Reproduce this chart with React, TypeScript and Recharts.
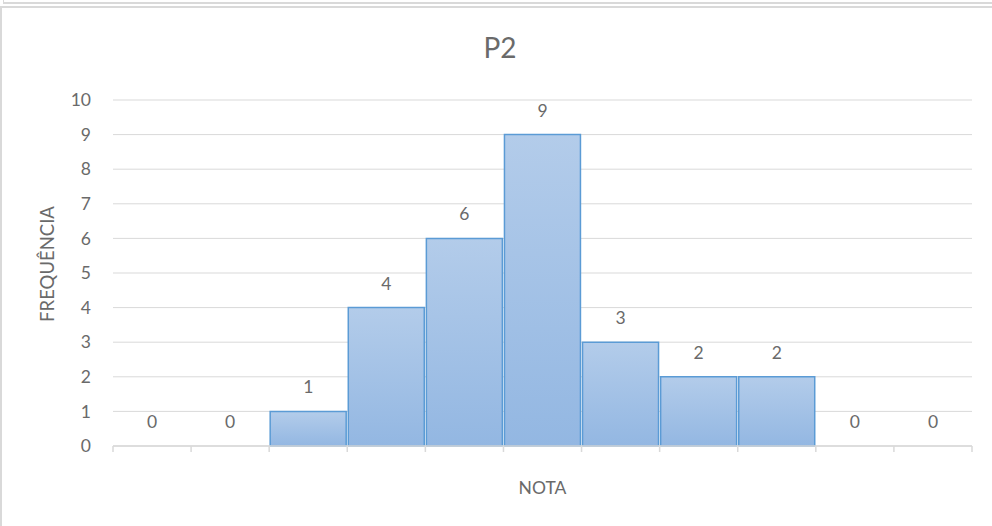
import React from "react";
import {
    ComposedChart,
    Bar,
    Line,
    XAxis,
    YAxis,
    CartesianGrid,
    LabelList,
} from "recharts";

// notas 0..10 e frequência de cada uma
const notas = ["0", "1", "2", "3", "4", "5", "6", "7", "8", "9", "10"];
const frequencias = [0, 0, 1, 4, 6, 9, 3, 2, 2, 0, 0];
const yTicks = [0, 1, 2, 3, 4, 5, 6, 7, 8, 9, 10];

const FONT = "Lato, 'Open Sans', sans-serif";
const GRAY = "#6A6A6A";
const LINE = "#D9D9D9";

const YLabel = (props: any) => {
    const vb = props.viewBox || {};
    const cx = vb.x + 14;
    const cy = vb.y + vb.height / 2 - 9;
    return (
        <text
            x={cx}
            y={cy}
            transform={`rotate(-90 ${cx} ${cy})`}
            textAnchor="middle"
            dominantBaseline="central"
            fill={GRAY}
            fontSize={18.5}
            fontFamily={FONT}
        >
            FREQUÊNCIA
        </text>
    );
};

// marcas do eixo X nos limites de cada classe (não no centro)
const BoundaryTick = (props: any) => {
    const { x, y, width, visibleTicksCount, index } = props;
    const band = width / visibleTicksCount;
    const left = x - band / 2;
    return (
        <g>
            <line x1={left} x2={left} y1={y} y2={y + 6} stroke={LINE} strokeWidth={1.5} />
            {index === visibleTicksCount - 1 && (
                <line
                    x1={left + band}
                    x2={left + band}
                    y1={y}
                    y2={y + 6}
                    stroke={LINE}
                    strokeWidth={1.5}
                />
            )}
        </g>
    );
};

const App: React.FC = () => {
    const data = notas.map((n, i) => ({ nota: n, freq: frequencias[i] }));

    return (
        <div
            style={{
                position: "fixed",
                top: 0,
                left: 0,
                width: 992,
                height: 526,
                overflow: "hidden",
                background: "#fff",
                fontFamily: FONT,
            }}
        >
            <div
                style={{
                    position: "absolute",
                    top: -10,
                    left: 3,
                    width: 1000,
                    height: 11,
                    border: `1px solid ${LINE}`,
                    borderBottomWidth: 2,
                }}
            />
            <div
                style={{
                    position: "absolute",
                    top: 6,
                    left: 0,
                    width: 1000,
                    height: 600,
                    border: `2px solid ${LINE}`,
                }}
            />
            <div
                style={{
                    position: "absolute",
                    top: 30,
                    left: 0,
                    width: 1000,
                    textAlign: "center",
                    fontSize: 28,
                    color: GRAY,
                }}
            >
                P2
            </div>
            <div style={{ position: "absolute", top: 0, left: 0 }}>
                <ComposedChart
                    width={992}
                    height={526}
                    data={data}
                    margin={{ top: 100, right: 20, bottom: 30, left: 33 }}
                    barCategoryGap={1}
                >
                    <defs>
                        <linearGradient id="barFill" x1="0" y1="0" x2="0" y2="1">
                            <stop offset="0%" stopColor="#B3CCEA" />
                            <stop offset="100%" stopColor="#93B7E2" />
                        </linearGradient>
                    </defs>
                    <CartesianGrid vertical={false} stroke={LINE} />
                    <XAxis
                        dataKey="nota"
                        interval={0}
                        tickSize={0}
                        tickMargin={0}
                        tickLine={false}
                        tick={<BoundaryTick />}
                        axisLine={{ stroke: LINE, strokeWidth: 1.5 }}
                        height={50}
                        label={{
                            value: "NOTA",
                            position: "insideBottom",
                            offset: 2,
                            fill: GRAY,
                            fontSize: 17.5,
                            fontFamily: FONT,
                        }}
                    />
                    <YAxis
                        domain={[0, 10]}
                        ticks={yTicks}
                        width={80}
                        axisLine={false}
                        tickLine={false}
                        tickMargin={16}
                        tick={{ fill: GRAY, fontSize: 17.5, fontFamily: FONT }}
                        label={<YLabel />}
                    />
                    <Bar
                        dataKey="freq"
                        fill="url(#barFill)"
                        stroke="#5B9BD5"
                        strokeWidth={1.5}
                        isAnimationActive={false}
                    />
                    {/* série invisível só para os rótulos (inclui os zeros) */}
                    <Line
                        dataKey="freq"
                        stroke="none"
                        dot={false}
                        activeDot={false}
                        isAnimationActive={false}
                    >
                        <LabelList
                            dataKey="freq"
                            position="top"
                            offset={18}
                            fill={GRAY}
                            fontSize={17.5}
                            fontFamily={FONT}
                        />
                    </Line>
                </ComposedChart>
            </div>
        </div>
    );
};

export default App;
